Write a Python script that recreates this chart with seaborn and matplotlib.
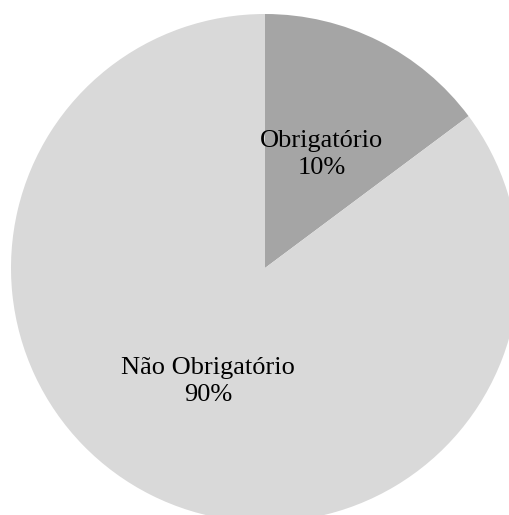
import matplotlib
matplotlib.use("Agg")
import matplotlib.pyplot as plt
import seaborn as sns

categories = ["Obrigatório", "Não Obrigatório"]
values = [14.8, 85.2]
pct_labels = ["10%", "90%"]
colors = ["#a5a5a5", "#d9d9d9"]

sns.set_style("white")
plt.rcParams['font.family'] = ['Liberation Serif', 'DejaVu Serif']

W, H = 509, 515
fig = plt.figure(figsize=(W / 100, H / 100), dpi=100)
ax = fig.add_axes([0, 0, 1, 1])
R = 254.0
cx, cy = 265.0, 268.0

labels = [f"{c}\n{p}" for c, p in zip(categories, pct_labels)]
wedges, texts = ax.pie(values, labels=labels, colors=colors, startangle=90,
                       counterclock=False, radius=1, labeldistance=0.5,
                       wedgeprops=dict(linewidth=0),
                       textprops=dict(fontsize=19, color="black"))
for t in texts:
    t.set_ha("center")
    t.set_va("center")
    t.set_linespacing(1.3)

ax.set_xlim(-cx / R, (W - cx) / R)
ax.set_ylim(-(H - cy) / R, cy / R)
ax.set_aspect("auto")
ax.axis("off")
fig.savefig("out.png", dpi=100, facecolor="white")
